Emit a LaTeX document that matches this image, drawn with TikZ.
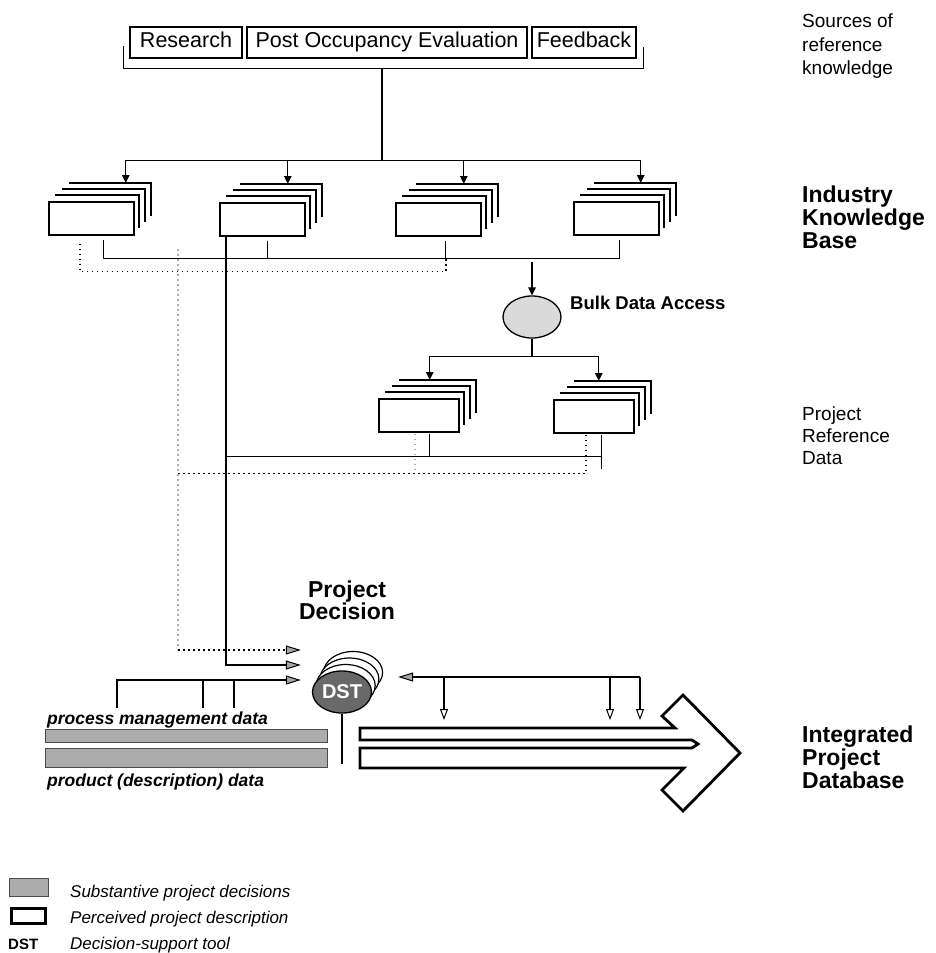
\documentclass[tikz,border=0pt]{standalone}
\usepackage{fontspec}
\setmainfont{Liberation Sans}
\usetikzlibrary{arrows.meta,shapes.geometric}

\definecolor{bargray}{RGB}{172,172,172}
\definecolor{dstgray}{RGB}{105,105,105}
\definecolor{bulkgray}{RGB}{218,218,218}

% a stack of record cards: front box plus three cards peeking out behind
\newcommand{\cardstack}[5]{% name, left x, top y, width, height
  \foreach \lay in {3,2,1}{%
    \draw[cardedge] ({#2+7*\lay},{#3-6*\lay}) -- ({#2+#4+6*\lay},{#3-6*\lay}) -- ({#2+#4+6*\lay},{#3+#5-6*\lay});
  }%
  \node[cardfront, minimum width=#4pt, minimum height=#5pt, anchor=north west] (#1) at (#2,#3) {};
}

\begin{document}
\begin{tikzpicture}[x=1pt,y=-1pt,
  wire/.style={line width=1.4pt},
  srcbox/.style={draw, line width=1.3pt, inner sep=0pt, minimum height=31pt, text height=15pt, text depth=4.5pt,
                 font=\fontsize{21.5}{23}\selectfont},
  cardfront/.style={draw, line width=1.5pt, fill=white, inner sep=0pt},
  cardedge/.style={line width=1.5pt},
  blacktip/.style={-{Triangle[length=8pt,width=7.5pt]}},
  graytip/.style={-{Triangle[length=15pt,width=9pt,fill=gray!70,line width=1pt]}},
  opentip/.style={-{Triangle[open,length=11pt,width=8pt,line width=1pt]}},
  dots/.style={line width=1.5pt, dash pattern=on 1.5pt off 3.5pt},
  greydots/.style={dots, draw=gray!65},
  sidelabel/.style={inner sep=0pt, anchor=north west, align=left},
  dstback/.style={ellipse, draw, fill=white, line width=1.2pt, minimum width=59pt, minimum height=42pt, inner sep=0pt},
  legendtext/.style={inner sep=0pt, anchor=base west, font=\itshape\fontsize{17}{17}\selectfont},
  datalabel/.style={inner sep=0pt, anchor=base west, font=\bfseries\itshape\fontsize{17.5}{18}\selectfont}]
\useasboundingbox (0,0) rectangle (935,953);

% ---- sources of reference knowledge
\node[srcbox, minimum width=112pt] (src1) at (186,42.5) {Research};
\node[srcbox, minimum width=280pt] (src2) at (387,42.5) {Post Occupancy Evaluation};
\node[srcbox, minimum width=104pt] (src3) at (584,42.5) {Feedback};
\draw[wire] ([xshift=-6pt,yshift=-3.5pt]src1.west) |- ([xshift=7pt,yshift=-10pt]src3.south east) -- ([xshift=7pt,yshift=-4.5pt]src3.east);

% ---- industry knowledge base
\cardstack{ikb1}{48}{201}{85}{33}
\cardstack{ikb2}{219}{202}{85}{33}
\cardstack{ikb3}{395}{202}{85}{33}
\cardstack{ikb4}{573}{201}{85}{33}

\coordinate (trunk) at ([xshift=-5pt,yshift=-10pt]src2.south);
\coordinate (hub) at ([yshift=-92pt]trunk);
\coordinate (ikb1in) at ([xshift=34.5pt,yshift=18pt]ikb1.north);
\coordinate (ikb2in) at ([xshift=25.5pt,yshift=18pt]ikb2.north);
\coordinate (ikb3in) at ([xshift=25.5pt,yshift=18pt]ikb3.north);
\coordinate (ikb4in) at ([xshift=24.5pt,yshift=18pt]ikb4.north);
\draw[wire] (trunk) -- (hub);
\draw[wire,blacktip] (hub) -| (ikb1in);
\draw[wire,blacktip] (hub) -| (ikb2in);
\draw[wire,blacktip] (hub) -| (ikb3in);
\draw[wire,blacktip] (hub) -| (ikb4in);

% collecting bus under the knowledge base
\coordinate (kbL) at ([xshift=12.5pt,yshift=-23pt]ikb1.south);
\coordinate (kbR) at ([xshift=3.5pt,yshift=-23pt]ikb4.south);
\coordinate (d2) at ([xshift=5.5pt,yshift=-4pt]ikb2.south);
\coordinate (d3) at ([xshift=7.5pt,yshift=-4pt]ikb3.south);
\draw[wire] ([xshift=12.5pt,yshift=-4pt]ikb1.south) -- (kbL) -- (kbR) -- ([xshift=3.5pt,yshift=-4pt]ikb4.south);
\draw[wire] (d2) -- (d2 |- kbL);
\draw[wire] (d3) -- (d3 |- kbL);

% ---- bulk data access
\node[ellipse, draw, line width=1.3pt, fill=bulkgray, minimum width=58pt, minimum height=42pt, inner sep=0pt] (bulk) at (532,317) {};
\node[inner sep=0pt, anchor=base west, font=\bfseries\fontsize{18.5}{19}\selectfont] (bulkLabel) at (570,309) {Bulk Data Access};
\draw[wire,blacktip,shorten <=3pt] (kbL -| bulk) -- (bulk.north);

% ---- project reference data
\cardstack{pr1}{378}{398}{80}{33}
\cardstack{pr2}{553}{399}{80}{33}
\coordinate (prhub) at ([yshift=-18pt]bulk.south);
\coordinate (pr1in) at ([xshift=11pt,yshift=18pt]pr1.north);
\coordinate (pr2in) at ([xshift=5pt,yshift=18pt]pr2.north);
\draw[wire] (bulk.south) -- (prhub);
\draw[wire,blacktip] (prhub) -| (pr1in);
\draw[wire,blacktip] (prhub) -| (pr2in);

% ---- decision-support tool
\node[dstback] (dstb3) at (353.1,672.5) {};
\node[dstback] (dstb2) at (349.4,679) {};
\node[dstback] (dstb1) at (345.7,685.5) {};
\node[ellipse, draw, line width=1.3pt, fill=dstgray, minimum width=59pt, minimum height=42pt, inner sep=0pt,
      text=white, font=\bfseries\fontsize{20}{20}\selectfont] (dst) at (342,692) {DST};
\node[font=\bfseries\fontsize{23}{22}\selectfont, align=center, inner sep=0pt, anchor=south] (pdLabel) at (347,620) {Project\\Decision};
\draw[line width=1.7pt] (dst.south) -- ++(0,50);

\coordinate (inA) at ([xshift=-11pt,yshift=42pt]dst.west);
\coordinate (inB) at ([xshift=-11pt,yshift=27pt]dst.west);
\coordinate (inC) at ([xshift=-11pt,yshift=12pt]dst.west);

% solid feed from the knowledge base
\coordinate (kbdrop) at ([xshift=7pt]ikb2.south west);
\draw[wire,graytip] (kbdrop) |- (inB);

% project reference data bus
\coordinate (prbus) at ([xshift=8pt,yshift=-23pt]pr2.south);
\coordinate (p1d) at ([xshift=11pt,yshift=-1pt]pr1.south);
\draw[wire] (kbdrop |- prbus) -- (prbus);
\draw[wire] (p1d) -- (p1d |- prbus);
\draw[wire] ([xshift=8pt,yshift=-1pt]pr2.south) -- ++(0,34);

% dotted feeds
\coordinate (kbdotS) at ([xshift=-11.5pt,yshift=-8pt]ikb1.south);
\coordinate (kbdot) at ([xshift=-11.5pt,yshift=-36pt]ikb1.south);
\draw[dots] (kbdotS) -- (kbdot) -| (d3 |- kbL);
\coordinate (gtop) at (178,249);
\draw[greydots] (gtop) -- (gtop |- inA);
\draw[dots,graytip] (gtop |- inA) -- (inA);
\coordinate (p2dot) at ([xshift=-8pt,yshift=-1pt]pr2.south);
\coordinate (prdot) at ([xshift=-8pt,yshift=-40pt]pr2.south);
\draw[dots] (p2dot) -- (prdot) -- (prdot -| gtop);
\draw[greydots] ([xshift=-4pt,yshift=-1pt]pr1.south) -- ++(0,39);

% ---- project data
\node[datalabel] (pm) at (47,724) {process management data};
\node[datalabel] (pd) at (47,786) {product (description) data};
\node[draw=gray!60!black, fill=bargray, line width=0.8pt, minimum width=282pt, minimum height=13pt, inner sep=0pt, anchor=north west] (bar1) at (45,729) {};
\node[draw=gray!60!black, fill=bargray, line width=0.8pt, minimum width=282pt, minimum height=19pt, inner sep=0pt, anchor=north west] (bar2) at (45,748) {};
\coordinate (pmA) at ([xshift=70pt,yshift=3pt]pm.north west);
\coordinate (pmB) at ([xshift=156pt,yshift=3pt]pm.north west);
\coordinate (pmC) at ([xshift=187pt,yshift=3pt]pm.north west);
\draw[wire,graytip] (pmA) |- (inC);
\draw[wire] (pmB) -- (pmB |- inC);
\draw[wire] (pmC) -- (pmC |- inC);

% ---- integrated project database
\draw[line width=2.8pt, line join=miter, miter limit=10]
  (360,728) -- (675,728) -- (662,716) -- (683,695) -- (740,753) -- (683,811) -- (662,790) -- (684,768)
  -- (360,768) -- (360,748) -- (692,748) -- (698,744) -- (692,740) -- (360,740) -- cycle;
\coordinate (outR) at ([xshift=26pt,yshift=15pt]dst.east);
\coordinate (fbCorner) at (640,677);
\coordinate (fbA) at (444,677);
\coordinate (fbB) at (610,677);
\draw[wire,graytip] (fbCorner) -- (outR);
\draw[line width=1.2pt,opentip] (fbCorner) -- ++(0,43);
\draw[line width=1.2pt,opentip] (fbA) -- ++(0,43);
\draw[line width=1.2pt,opentip] (fbB) -- ++(0,43);

% ---- level labels
\node[sidelabel, font=\fontsize{19}{23.5}\selectfont] (srcLabel) at (802,14) {Sources of\\reference\\knowledge};
\node[sidelabel, font=\bfseries\fontsize{23}{23}\selectfont] (ikbLabel) at (802,185.5) {Industry\\Knowledge\\Base};
\node[sidelabel, font=\fontsize{19}{22}\selectfont] (prdLabel) at (802,407) {Project\\Reference\\Data};
\node[sidelabel, font=\bfseries\fontsize{23}{23}\selectfont] (ipdLabel) at (802,726) {Integrated\\Project\\Database};

% ---- key
\node[draw=gray!60!black, fill=bargray, line width=0.8pt, minimum width=39pt, minimum height=18pt, inner sep=0pt] (keyBar) at (28.5,887.5) {};
\node[draw, line width=2.6pt, minimum width=34pt, minimum height=15pt, inner sep=0pt] (keyBox) at (28.5,916) {};
\node[font=\bfseries\fontsize{15}{15}\selectfont, inner sep=0pt, anchor=base west] (keyDst) at (8,949) {DST};
\node[legendtext] (keyBarText) at (70,897) {Substantive project decisions};
\node[legendtext] (keyBoxText) at (70,923) {Perceived project description};
\node[legendtext] (keyDstText) at (70,949) {Decision-support tool};
\end{tikzpicture}
\end{document}
